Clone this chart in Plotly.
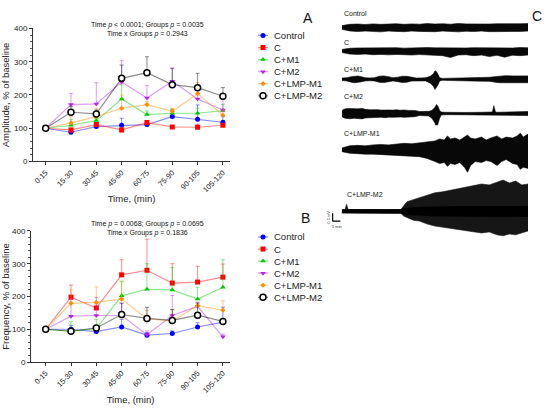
import plotly.graph_objects as go

# ---- data ----
TIME_BINS = ["0-15", "15-30", "30-45", "45-60", "60-75", "75-90", "90-105", "105-120"]
GROUPS = ["Control", "C", "C+M1", "C+M2", "C+LMP-M1", "C+LMP-M2"]

# panel A: amplitude, % of baseline (mean and top of the error bar)
amp_control = [100, 88, 105, 109, 111, 135, 127, 118]
amp_control_up = [100, 95, 112, 130, 117, 155, 170, 135]
amp_c = [100, 95, 111, 95, 117, 104, 103, 109]
amp_c_up = [100, 100, 117, 100, 122, 108, 112, 114]
amp_m1 = [100, 109, 123, 188, 141, 145, 145, 153]
amp_m1_up = [100, 127, 130, 232, 152, 158, 160, 172]
amp_m2 = [100, 171, 173, 239, 191, 241, 188, 155]
amp_m2_up = [100, 205, 237, 303, 229, 281, 205, 190]
amp_lmp1 = [100, 116, 135, 160, 171, 151, 204, 139]
amp_lmp1_up = [100, 135, 160, 200, 180, 160, 237, 155]
amp_lmp2 = [100, 148, 143, 250, 267, 231, 222, 196]
amp_lmp2_up = [100, 165, 155, 290, 315, 280, 265, 222]

# panel B: frequency, % of baseline
frq_control = [100, 100, 93, 107, 82, 87, 107, 122]
frq_control_up = [100, 112, 100, 130, 90, 95, 120, 167]
frq_c = [100, 198, 165, 266, 280, 241, 244, 259]
frq_c_up = [100, 235, 180, 312, 375, 300, 292, 299]
frq_m1 = [100, 94, 102, 202, 222, 220, 192, 228]
frq_m1_up = [100, 123, 130, 247, 300, 288, 228, 312]
frq_m2 = [100, 140, 142, 142, 83, 142, 170, 77]
frq_m2_up = [100, 192, 197, 178, 95, 203, 183, 85]
frq_lmp1 = [100, 179, 182, 192, 132, 125, 172, 158]
frq_lmp1_up = [100, 220, 229, 245, 157, 160, 180, 187]
frq_lmp2 = [100, 94, 104, 145, 133, 127, 143, 124]
frq_lmp2_up = [100, 100, 110, 180, 167, 160, 180, 130]

# panel C: envelope of the recordings (time in min, upper / lower edge in mV)
rec_control_t = [0, 5, 10, 15, 20, 25, 30, 35, 40, 45, 50, 55, 60, 65, 70, 75, 80, 85, 90, 95, 100, 105, 110, 115, 120]
rec_control_up = [0.12, 0.2, 0.22, 0.19, 0.23, 0.2, 0.22, 0.24, 0.2, 0.23, 0.21, 0.25, 0.22, 0.24, 0.21, 0.26, 0.23, 0.22, 0.25, 0.22, 0.24, 0.23, 0.26, 0.24, 0.25]
rec_control_lo = [-0.12, -0.22, -0.26, -0.23, -0.25, -0.28, -0.23, -0.25, -0.27, -0.23, -0.25, -0.24, -0.27, -0.23, -0.25, -0.28, -0.24, -0.26, -0.23, -0.27, -0.25, -0.24, -0.26, -0.25, -0.23]

rec_c_t = [0, 5, 10, 15, 20, 25, 30, 35, 40, 45, 50, 55, 60, 65, 70, 75, 80, 85, 90, 95, 100, 105, 110, 115, 120]
rec_c_up = [0.1, 0.17, 0.19, 0.2, 0.18, 0.2, 0.19, 0.21, 0.18, 0.2, 0.19, 0.22, 0.2, 0.19, 0.21, 0.2, 0.19, 0.21, 0.2, 0.22, 0.2, 0.21, 0.19, 0.22, 0.2]
rec_c_lo = [-0.1, -0.2, -0.22, -0.2, -0.24, -0.22, -0.25, -0.22, -0.24, -0.26, -0.23, -0.25, -0.28, -0.3, -0.42, -0.26, -0.24, -0.3, -0.26, -0.36, -0.28, -0.4, -0.27, -0.3, -0.26]

rec_m1_t = [0, 3, 6, 8, 10, 12, 15, 18, 21, 24, 27, 30, 33, 36, 39, 42, 45, 48, 51, 54,
            57, 59, 60, 61, 62, 63, 65, 70, 75, 80, 85, 90, 95, 100, 102, 105, 110, 115, 120]
rec_m1_up = [0.08, 0.1, 0.17, 0.2, 0.21, 0.18, 0.1, 0.09, 0.1, 0.2, 0.22, 0.17, 0.1, 0.14, 0.2, 0.19, 0.12, 0.08, 0.09, 0.1,
             0.2, 0.35, 0.55, 0.48, 0.3, 0.1, 0.06, 0.08, 0.1, 0.11, 0.12, 0.12, 0.13, 0.2, 0.22, 0.23, 0.22, 0.23, 0.22]
rec_m1_lo = [-0.08, -0.1, -0.18, -0.22, -0.2, -0.17, -0.1, -0.09, -0.1, -0.19, -0.21, -0.16, -0.1, -0.15, -0.21, -0.18, -0.11, -0.08, -0.09, -0.1,
             -0.25, -0.45, -0.65, -0.55, -0.35, -0.1, -0.06, -0.08, -0.1, -0.11, -0.12, -0.12, -0.13, -0.2, -0.22, -0.23, -0.22, -0.23, -0.22]

rec_m2_t = [0, 2, 5, 8, 10, 13, 15, 18, 20, 23, 25, 28, 30, 33, 35, 38, 40, 43, 45, 47,
            50, 53, 56, 58, 60, 61, 62, 63, 64, 66, 70, 80, 90, 96, 97, 98, 99, 100, 110, 115, 120]
rec_m2_up = [0.2, 0.3, 0.32, 0.28, 0.3, 0.33, 0.27, 0.24, 0.26, 0.25, 0.22, 0.25, 0.23, 0.22, 0.24, 0.21, 0.23, 0.2, 0.22, 0.2,
             0.13, 0.12, 0.14, 0.2, 0.4, 0.58, 0.45, 0.2, 0.1, 0.08, 0.07, 0.07, 0.08, 0.08, 0.1, 0.5, 0.1, 0.08, 0.1, 0.12, 0.13]
rec_m2_lo = [-0.2, -0.3, -0.33, -0.3, -0.31, -0.34, -0.28, -0.26, -0.27, -0.25, -0.24, -0.26, -0.23, -0.24, -0.25, -0.22, -0.24, -0.21, -0.22, -0.2,
             -0.13, -0.12, -0.15, -0.3, -0.6, -0.95, -0.7, -0.3, -0.1, -0.08, -0.07, -0.07, -0.08, -0.08, -0.08, -0.09, -0.08, -0.08, -0.1, -0.12, -0.13]

rec_lmp1_t = [0, 5, 10, 15, 20, 25, 30, 35, 40, 45, 50, 55, 60, 63, 66, 68, 70, 73, 76, 79,
              81, 83, 86, 90, 93, 96, 100, 103, 106, 110, 113, 115, 117, 120]
rec_lmp1_up = [0.12, 0.25, 0.28, 0.25, 0.31, 0.34, 0.31, 0.38, 0.41, 0.38, 0.44, 0.5, 0.56, 0.69, 0.62, 0.88, 0.69, 0.75, 0.62, 0.81,
               0.94, 0.75, 0.69, 0.81, 0.62, 0.75, 0.88, 0.69, 0.81, 0.75, 0.88, 1.06, 0.81, 1.0]
rec_lmp1_lo = [-0.12, -0.22, -0.25, -0.28, -0.28, -0.31, -0.34, -0.38, -0.38, -0.41, -0.44, -0.56, -0.75, -0.88, -0.81, -1.06, -0.88, -0.94, -0.81, -1.12,
               -1.44, -1.0, -0.75, -0.81, -0.69, -0.75, -1.0, -0.75, -0.62, -0.88, -0.94, -1.25, -1.12, -1.19]

rec_lmp2_t = [0, 2, 3, 4, 10, 20, 30, 38, 40, 42, 46, 50, 55, 60, 65, 72, 78, 85, 90, 95, 100, 104, 108, 112, 116, 120]
rec_lmp2_up = [0.1, 0.12, 0.45, 0.12, 0.12, 0.11, 0.12, 0.12, 0.38, 0.62, 0.75, 0.88, 1.0, 1.19, 1.25, 1.38, 1.5, 1.62, 1.75, 1.69, 1.88, 2.0, 1.81, 1.94, 1.69, 1.75]
rec_lmp2_lo = [-0.1, -0.12, -0.12, -0.12, -0.12, -0.11, -0.12, -0.12, -0.31, -0.38, -0.56, -0.62, -0.81, -0.94, -1.0, -1.12, -1.19, -1.31, -1.38, -1.31, -1.5, -1.56, -1.44, -1.5, -1.38, -1.25]
# dense dark core of the C+LMP-M2 recording (half width, mV)
rec_lmp2_core = [0.1, 0.12, 0.12, 0.12, 0.12, 0.11, 0.12, 0.12, 0.2, 0.22, 0.25, 0.26, 0.28, 0.3, 0.3, 0.31, 0.32, 0.32, 0.33, 0.33, 0.34, 0.34, 0.33, 0.34, 0.33, 0.32]

# ---- styling ----
W, H = 550, 413
FONT = "Liberation Sans, Arial, sans-serif"

def px(x):
    return x / W

def py(y):
    return 1 - y / H

styles = {
    "Control": dict(color="#0000FF", fade="rgba(0,0,255,0.45)", symbol="circle", size=5),
    "C": dict(color="#FF0000", fade="rgba(255,0,0,0.45)", symbol="square", size=5),
    "C+M1": dict(color="#00C800", fade="rgba(0,200,0,0.45)", symbol="triangle-up", size=5),
    "C+M2": dict(color="#B822EE", fade="rgba(184,34,238,0.45)", symbol="triangle-down", size=5),
    "C+LMP-M1": dict(color="#FF8C00", fade="rgba(255,140,0,0.45)", symbol="diamond", size=4),
    "C+LMP-M2": dict(color="#000000", fade="rgba(0,0,0,0.45)", symbol="circle", size=6),
}

amp = {
    "Control": (amp_control, amp_control_up), "C": (amp_c, amp_c_up),
    "C+M1": (amp_m1, amp_m1_up), "C+M2": (amp_m2, amp_m2_up),
    "C+LMP-M1": (amp_lmp1, amp_lmp1_up), "C+LMP-M2": (amp_lmp2, amp_lmp2_up),
}
frq = {
    "Control": (frq_control, frq_control_up), "C": (frq_c, frq_c_up),
    "C+M1": (frq_m1, frq_m1_up), "C+M2": (frq_m2, frq_m2_up),
    "C+LMP-M1": (frq_lmp1, frq_lmp1_up), "C+LMP-M2": (frq_lmp2, frq_lmp2_up),
}
recordings = [
    ("Control", rec_control_t, rec_control_up, rec_control_lo),
    ("C", rec_c_t, rec_c_up, rec_c_lo),
    ("C+M1", rec_m1_t, rec_m1_up, rec_m1_lo),
    ("C+M2", rec_m2_t, rec_m2_up, rec_m2_lo),
    ("C+LMP-M1", rec_lmp1_t, rec_lmp1_up, rec_lmp1_lo),
    ("C+LMP-M2", rec_lmp2_t, rec_lmp2_up, rec_lmp2_lo),
]


def marker_for(g):
    s = styles[g]
    if g == "C+LMP-M2":
        return dict(symbol=s["symbol"], size=s["size"], color="white", line=dict(color="black", width=1.5))
    return dict(symbol=s["symbol"], size=s["size"], color=s["color"], line=dict(width=0))


def note(text, x, y, size, **kw):
    fig.add_annotation(x=px(x), y=py(y), xref="paper", yref="paper", text=text,
                       showarrow=False, font=dict(size=size, color="#111"),
                       yanchor="middle", **kw)


fig = go.Figure()

# panels A and B
for xa, ya, table in [("x", "y", amp), ("x2", "y2", frq)]:
    for g in GROUPS:
        mean, upper = table[g]
        s = styles[g]
        fig.add_trace(go.Scatter(
            x=TIME_BINS, y=mean, xaxis=xa, yaxis=ya, mode="lines+markers",
            line=dict(color=s["fade"], width=1.2),
            marker=marker_for(g),
            error_y=dict(type="data", symmetric=False,
                         array=[u - m for u, m in zip(upper, mean)],
                         arrayminus=[0] * len(mean),
                         color=s["fade"], thickness=1, width=2),
            showlegend=False, hoverinfo="skip"))

# hand-made compact legends next to A and B
for xa, ya in [("x3", "y3"), ("x4", "y4")]:
    for i, g in enumerate(GROUPS):
        s = styles[g]
        fig.add_trace(go.Scatter(x=[2, 12], y=[i, i], xaxis=xa, yaxis=ya, mode="lines",
                                 line=dict(color=s["fade"], width=1.2),
                                 showlegend=False, hoverinfo="skip"))
        fig.add_trace(go.Scatter(x=[7], y=[i], xaxis=xa, yaxis=ya, mode="markers",
                                 marker=marker_for(g), showlegend=False, hoverinfo="skip"))
        fig.add_annotation(x=16, y=i, xref=xa, yref=ya, text=g, showarrow=False,
                           xanchor="left", yanchor="middle", font=dict(size=9.5, color="#222"))

# panel C recordings, one strip each
strips = {  # (top px, centre px, bottom px)
    "Control": (16, 24, 32),
    "C": (41, 48, 56),
    "C+M1": (66, 77, 89),
    "C+M2": (100, 112, 128),
    "C+LMP-M1": (124, 149, 175),
    "C+LMP-M2": (178, 212, 241),
}
label_pos = {"Control": (342, 10), "C": (342, 39), "C+M1": (342, 67), "C+M2": (342, 95),
             "C+LMP-M1": (342, 132), "C+LMP-M2": (345, 195)}
PX_PER_MV = 16
C_LEFT, C_RIGHT = 328, 528
C_RANGE = [-9, 120]

for k, (g, t, up, lo) in enumerate(recordings):
    n = 5 + k
    xa, ya = "x%d" % n, "y%d" % n
    outer = "#161616" if g == "C+LMP-M2" else "#080808"
    fig.add_trace(go.Scatter(x=t + t[::-1], y=up + lo[::-1], xaxis=xa, yaxis=ya,
                             mode="lines", fill="toself", fillcolor=outer,
                             line=dict(color=outer, width=0.6),
                             showlegend=False, hoverinfo="skip"))
    if g == "C+LMP-M2":
        fig.add_trace(go.Scatter(x=t + t[::-1], y=rec_lmp2_core + [-c for c in rec_lmp2_core[::-1]],
                                 xaxis=xa, yaxis=ya, mode="lines", fill="toself",
                                 fillcolor="#000", line=dict(color="#000", width=0.6),
                                 showlegend=False, hoverinfo="skip"))
    top, mid, bot = strips[g]
    fig.update_layout(**{
        "xaxis%d" % n: dict(domain=[px(C_LEFT), px(C_RIGHT)], range=C_RANGE, visible=False,
                            anchor=ya),
        "yaxis%d" % n: dict(domain=[py(bot), py(top)],
                            range=[-(bot - mid) / PX_PER_MV, (mid - top) / PX_PER_MV],
                            visible=False, anchor=xa),
    })
    lx, ly = label_pos[g]
    note(g, lx, ly, 7, xanchor="left")

# scale bar on the last strip: 0.5 mV and 5 min
fig.add_shape(type="line", xref="x10", yref="y10", x0=-6, x1=-6, y0=-0.625, y1=-0.125,
              line=dict(color="black", width=1.2))
fig.add_shape(type="line", xref="x10", yref="y10", x0=-6, x1=-1, y0=-0.625, y1=-0.625,
              line=dict(color="black", width=1.2))
fig.add_annotation(x=-8.8, y=-0.38, xref="x10", yref="y10", text="0.5 mV", textangle=-90,
                   showarrow=False, font=dict(size=4, color="#333"))
fig.add_annotation(x=-3.5, y=-0.95, xref="x10", yref="y10", text="5 min",
                   showarrow=False, font=dict(size=4, color="#333"))

# axes for A and B
def value_axis(dom, title, anchor):
    return dict(domain=dom, range=[0, 400], tickvals=[0, 100, 200, 300, 400], anchor=anchor,
                showline=True, linecolor="#333", linewidth=1, ticks="outside", ticklen=3,
                tickcolor="#333", showgrid=False, zeroline=False,
                minor=dict(dtick=20, ticks="outside", ticklen=2, tickcolor="#555"),
                tickfont=dict(size=8, color="#222"),
                title=dict(text=title, font=dict(size=9.5, color="#222"), standoff=4))

def time_axis(dom, anchor, start):
    return dict(domain=dom, range=[start, 7.28], type="category", anchor=anchor,
                showline=True, linecolor="#333", linewidth=1, ticks="outside", ticklen=3,
                tickcolor="#333", showgrid=False, zeroline=False, tickangle=-45,
                tickfont=dict(size=7.5, color="#222"),
                title=dict(text="Time, (min)", font=dict(size=9.5, color="#222"), standoff=2))

fig.update_layout(
    width=W, height=H, margin=dict(l=0, r=0, t=0, b=0),
    paper_bgcolor="white", plot_bgcolor="white",
    font=dict(family=FONT, color="#222"),
    xaxis=time_axis([px(33), px(230)], "y", -0.5),
    yaxis=value_axis([py(161), py(25)], "Amplitude, % of baseline", "x"),
    xaxis2=time_axis([px(31), px(230)], "y2", -0.58),
    yaxis2=value_axis([py(366), py(232)], "Frequency, % of baseline", "x2"),
    xaxis3=dict(domain=[px(256), px(330)], range=[0, 74], visible=False, anchor="y3"),
    yaxis3=dict(domain=[py(100), py(26)], range=[5.5, -0.5], visible=False, anchor="x3"),
    xaxis4=dict(domain=[px(256), px(330)], range=[0, 74], visible=False, anchor="y4"),
    yaxis4=dict(domain=[py(306), py(232)], range=[5.5, -0.5], visible=False, anchor="x4"),
)

# statistics text and panel letters
note("Time <i>p</i> &lt; 0.0001; Groups <i>p</i> = 0.0035<br>Time x Groups <i>p</i> = 0.2943",
     147, 26, 7, xanchor="center", align="center")
note("Time <i>p</i> = 0.0068; Groups <i>p</i> = 0.0695<br>Time x Groups <i>p</i> = 0.1836",
     147, 229, 7, xanchor="center", align="center")
note("A", 308, 14, 14, xanchor="center")
note("B", 305, 219, 14, xanchor="center")
note("C", 537, 12, 14, xanchor="center")

# the page body has a default 8px margin; drop it so the figure sits at the window corner
fig.write_html("out.html", config={"displayModeBar": False},
               post_script="document.body.style.margin='0';")
